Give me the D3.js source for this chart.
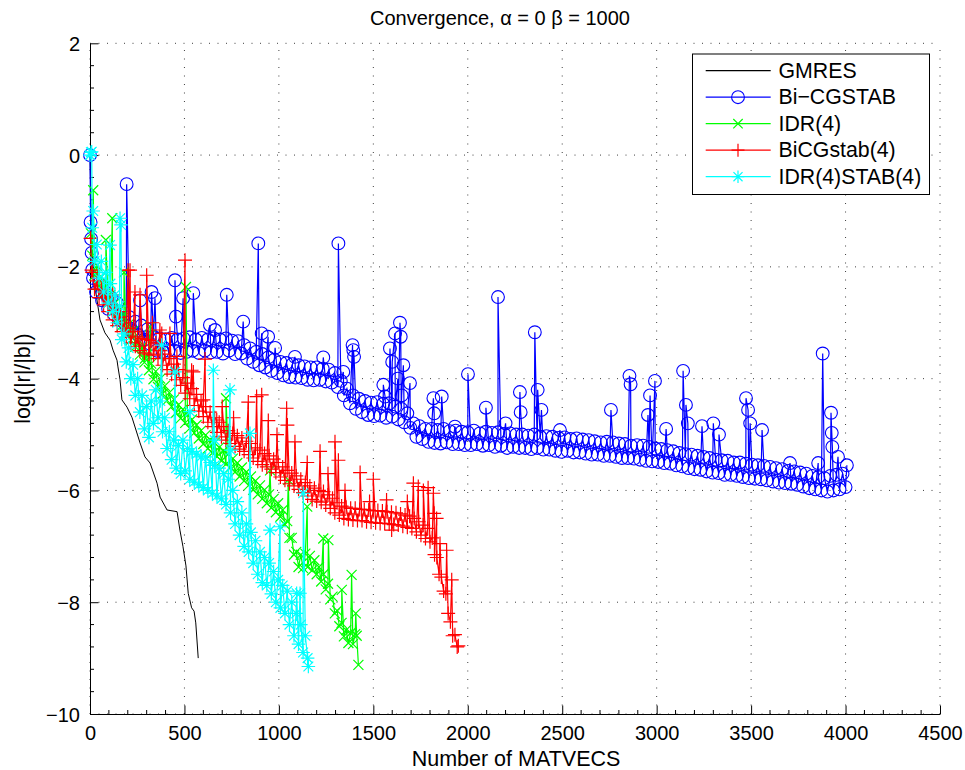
<!DOCTYPE html>
<html>
<head>
<meta charset="utf-8">
<script src="https://cdn.jsdelivr.net/npm/d3@7"></script>
<style>
  html, body { margin: 0; padding: 0; background: #fff; }
  svg { display: block; }
  text { font-family: "Liberation Sans", Arial, Helvetica, sans-serif; fill: #000; }
</style>
</head>
<body>
<svg id="chart" width="965" height="770"></svg>
<script>
// ---------------- DATA ----------------
const titleText = "Convergence, α = 0 β = 1000";
const xLabelText = "Number of MATVECS";
const yLabelText = "log(|r|/|b|)";
const xTicks = [0, 500, 1000, 1500, 2000, 2500, 3000, 3500, 4000, 4500];
const yTicks = [-10, -8, -6, -4, -2, 0, 2];
const seriesNames = ["GMRES", "Bi−CGSTAB", "IDR(4)", "BiCGstab(4)", "IDR(4)STAB(4)"];

// GMRES: [matvecs, log residual]
const gmresPts = [[0,0],[6,-1.0],[12,-1.8],[22,-2.25],[35,-2.55],[53,-2.95],[79,-3.18],[106,-3.31],
  [122,-3.49],[143,-3.67],[148,-3.79],[159,-4.02],[169,-4.38],[196,-4.51],[222,-4.69],[265,-5.15],
  [291,-5.40],[318,-5.51],[355,-5.87],[371,-6.12],[408,-6.35],[461,-6.38],[476,-6.71],[492,-7.0],
  [508,-7.35],[520,-7.84],[538,-8.10],[551,-8.16],[560,-8.37],[573,-9.0]];

// Bi-CGSTAB: read every 16 matvecs from 16 to 4000, plus start points and spikes
const bicgStart = 16, bicgStep = 16;
const bicgBase = [
  -2.2,-2.45,-2.3,-2.6,-2.45,-2.75,-2.55,-2.85,-2.65,-2.95,
  -2.8,-3.05,-2.9,-3.15,-2.98,-3.22,-3.05,-3.3,-3.12,-3.38,
  -3.25,-3.5,-3.28,-3.52,-3.3,-3.5,-3.27,-3.5,-3.3,-3.54,
  -3.28,-3.52,-3.26,-3.5,-3.3,-3.54,-3.27,-3.5,-3.3,-3.53,
  -3.28,-3.52,-3.3,-3.55,-3.28,-3.5,-3.32,-3.56,-3.33,-3.55,
  -3.4,-3.64,-3.46,-3.7,-3.52,-3.76,-3.56,-3.8,-3.62,-3.86,
  -3.66,-3.9,-3.7,-3.94,-3.72,-3.97,-3.74,-3.98,-3.76,-3.99,
  -3.78,-4.02,-3.8,-4.03,-3.8,-4.02,-3.82,-4.05,-3.84,-4.07,
  -3.9,-4.15,-4.04,-4.3,-4.18,-4.44,-4.3,-4.54,-4.36,-4.6,
  -4.4,-4.65,-4.43,-4.67,-4.42,-4.66,-4.45,-4.7,-4.44,-4.68,
  -4.5,-4.73,-4.54,-4.78,-4.62,-4.88,-4.8,-5.04,-4.85,-5.08,
  -4.9,-5.13,-4.9,-5.15,-4.92,-5.16,-4.9,-5.14,-4.94,-5.17,
  -4.93,-5.17,-4.95,-5.19,-4.96,-5.19,-4.93,-5.17,-4.98,-5.2,
  -4.95,-5.19,-4.97,-5.22,-4.96,-5.2,-4.99,-5.24,-4.98,-5.22,
  -5.0,-5.24,-5.0,-5.24,-5.02,-5.26,-5.0,-5.24,-5.04,-5.27,
  -5.03,-5.27,-5.04,-5.29,-5.06,-5.31,-5.05,-5.29,-5.08,-5.32,
  -5.07,-5.32,-5.09,-5.34,-5.1,-5.36,-5.12,-5.36,-5.14,-5.38,
  -5.13,-5.38,-5.14,-5.4,-5.16,-5.42,-5.17,-5.42,-5.2,-5.43,
  -5.19,-5.45,-5.2,-5.47,-5.22,-5.48,-5.25,-5.49,-5.26,-5.51,
  -5.28,-5.52,-5.3,-5.55,-5.33,-5.57,-5.35,-5.6,-5.36,-5.62,
  -5.38,-5.63,-5.4,-5.66,-5.42,-5.68,-5.45,-5.69,-5.46,-5.72,
  -5.47,-5.72,-5.5,-5.74,-5.5,-5.76,-5.52,-5.78,-5.54,-5.79,
  -5.55,-5.8,-5.56,-5.82,-5.58,-5.84,-5.6,-5.86,-5.62,-5.87,
  -5.65,-5.88,-5.66,-5.9,-5.68,-5.93,-5.7,-5.96,-5.74,-5.98,
  -5.76,-6.0,-5.78,-6.02,-5.74,-6.0,-5.72,-5.98,-5.7,-5.94];
const bicgExtra = [[0,0],[3,-1.2],[6,-1.5],[9,-1.75],[12,-2.05],
  [194,-0.52],[265,-2.6],[326,-2.45],[344,-2.56],[450,-2.24],[455,-2.89],[493,-2.56],[547,-2.47],
  [635,-3.04],[662,-3.13],[724,-2.5],[811,-2.98],[891,-1.58],[909,-3.19],[943,-3.25],[980,-3.45],
  [1085,-3.61],[1235,-3.62],[1315,-1.58],[1341,-3.88],[1390,-3.4],[1394,-3.49],[1398,-3.61],
  [1553,-4.11],[1562,-4.32],[1588,-3.46],[1600,-3.7],[1615,-3.19],[1630,-4.0],[1641,-3.0],[1645,-3.25],
  [1650,-4.3],[1659,-3.76],[1694,-4.08],[1818,-4.35],[1822,-4.62],[1862,-4.32],[1932,-4.86],
  [2001,-3.92],[2096,-4.52],[2160,-2.54],[2200,-4.8],[2276,-4.24],[2280,-4.6],[2355,-3.17],
  [2370,-4.2],[2390,-4.56],[2488,-4.92],[2758,-4.56],[2856,-3.95],[2862,-4.1],[2954,-4.65],
  [2965,-4.3],[2991,-4.04],[3050,-4.9],[3140,-3.86],[3155,-4.47],[3165,-4.8],[3240,-4.85],
  [3300,-4.8],[3330,-5.0],[3473,-4.35],[3484,-4.56],[3495,-4.8],[3558,-4.92],[3706,-5.51],
  [3855,-5.51],[3879,-3.55],[3923,-4.61],[3927,-4.97],[3930,-5.22],[3960,-5.4],[4007,-5.55]];

// IDR(4): read every 12 matvecs from 12 to 1404, plus spikes
const idrStart = 12, idrStep = 12;
const idrBase = [
  -1.8,-2.15,-1.98,-2.35,-2.18,-2.5,-2.34,-2.65,-2.5,-2.8,
  -2.65,-2.93,-2.77,-3.05,-2.9,-3.17,-3.03,-3.31,-3.15,-3.43,
  -3.3,-3.57,-3.43,-3.71,-3.57,-3.85,-3.73,-4.01,-3.87,-4.15,
  -4.0,-4.27,-4.13,-4.39,-4.25,-4.5,-4.37,-4.61,-4.47,-4.71,
  -4.55,-4.79,-4.65,-4.89,-4.73,-4.97,-4.83,-5.07,-4.93,-5.17,
  -5.01,-5.25,-5.09,-5.33,-5.15,-5.39,-5.23,-5.47,-5.29,-5.53,
  -5.35,-5.59,-5.43,-5.67,-5.51,-5.75,-5.59,-5.83,-5.67,-5.91,
  -5.75,-5.99,-5.83,-6.07,-5.91,-6.15,-5.99,-6.23,-6.07,-6.31,
  -6.15,-6.39,-6.23,-6.47,-6.35,-6.61,-6.55,-6.85,-6.85,-7.15,
  -7.1,-7.37,-7.15,-7.39,-7.13,-7.37,-7.17,-7.43,-7.25,-7.5,
  -7.37,-7.63,-7.5,-7.77,-7.67,-7.95,-7.9,-8.2,-8.15,-8.43,
  -8.37,-8.61,-8.5,-8.73,-8.55,-8.75,-8.57];
const idrExtra = [[5,-1.4],[17,-0.63],[84,-1.52],[118,-1.13],[180,-2.1],[291,-3.64],[318,-3.07],
  [508,-2.36],[720,-4.35],[953,-5.64],[1050,-5.81],[1150,-6.29],[1235,-6.86],[1262,-6.89],
  [1333,-7.78],[1385,-7.51],[1407,-8.2],[1412,-8.6],[1421,-9.12]];

// BiCGstab(4): read every 12 matvecs from 12 to 1944, plus spikes
const bicgLStart = 12, bicgLStep = 12;
const bicgLBase = [
  -2.1,-2.4,-2.25,-2.55,-2.4,-2.68,-2.52,-2.8,-2.65,-2.95,
  -2.78,-3.05,-2.9,-3.16,-3.0,-3.26,-3.1,-3.36,-3.16,-3.42,
  -3.25,-3.5,-3.28,-3.54,-3.3,-3.56,-3.32,-3.58,-3.36,-3.64,
  -3.5,-3.76,-3.56,-3.84,-3.64,-3.92,-3.74,-4.02,-3.84,-4.12,
  -3.98,-4.26,-4.08,-4.36,-4.18,-4.48,-4.28,-4.58,-4.4,-4.68,
  -4.5,-4.78,-4.6,-4.86,-4.7,-4.96,-4.78,-5.04,-4.86,-5.1,
  -4.93,-5.16,-4.98,-5.21,-5.02,-5.26,-5.06,-5.3,-5.12,-5.36,
  -5.16,-5.42,-5.24,-5.48,-5.28,-5.54,-5.34,-5.58,-5.38,-5.62,
  -5.44,-5.68,-5.5,-5.76,-5.58,-5.82,-5.64,-5.88,-5.69,-5.92,
  -5.74,-5.98,-5.8,-6.04,-5.86,-6.1,-5.92,-6.16,-5.96,-6.19,
  -6.0,-6.21,-6.02,-6.26,-6.08,-6.32,-6.14,-6.4,-6.22,-6.44,
  -6.28,-6.5,-6.3,-6.52,-6.32,-6.53,-6.32,-6.54,-6.34,-6.54,
  -6.34,-6.56,-6.35,-6.57,-6.36,-6.58,-6.36,-6.59,-6.37,-6.59,
  -6.38,-6.6,-6.39,-6.61,-6.4,-6.62,-6.42,-6.64,-6.44,-6.66,
  -6.46,-6.68,-6.5,-6.74,-6.56,-6.8,-6.62,-6.86,-6.68,-6.92,
  -6.85,-7.15,-7.2,-7.5,-7.55,-7.8,-7.85,-8.2,-8.35,-8.6,
  -8.58,-8.8];
const bicgLExtra = [[3,-1.49],[8,-2.06],[120,-2.5],[150,-2.8],[201,-2.06],[212,-2.06],[238,-2.45],
  [265,-2.5],[300,-2.15],[330,-3.0],[370,-3.13],[380,-3.19],[423,-3.19],[460,-3.6],[503,-1.88],
  [538,-3.85],[547,-3.88],[600,-4.38],[609,-3.65],[671,-4.74],[700,-4.5],[760,-4.7],[838,-4.42],
  [882,-4.32],[909,-4.29],[944,-4.75],[990,-5.0],[1041,-4.53],[1045,-4.83],[1085,-5.13],
  [1150,-5.5],[1218,-5.3],[1260,-5.7],[1297,-5.13],[1315,-5.46],[1350,-6.0],[1430,-5.68],
  [1480,-6.2],[1500,-5.8],[1570,-6.17],[1597,-6.71],[1680,-6.2],[1712,-5.87],[1738,-5.93],
  [1765,-6.0],[1790,-5.95],[1818,-6.05],[1822,-6.41],[1835,-6.5],[1853,-6.95],[1888,-7.07],
  [1915,-7.6],[1950,-8.78]];

// IDR(4)STAB(4): read every 12 matvecs from 12 to 1152, plus spikes
const idrsStart = 12, idrsStep = 12;
const idrsBase = [
  -1.3,-1.9,-1.6,-2.2,-1.9,-2.45,-2.1,-2.65,-2.3,-2.8,
  -2.5,-3.0,-2.7,-3.3,-3.2,-3.7,-3.45,-4.0,-3.75,-4.3,
  -4.0,-4.6,-4.3,-4.9,-4.5,-5.05,-4.4,-4.8,-4.2,-4.7,
  -4.4,-4.95,-4.7,-5.25,-4.95,-5.45,-5.1,-5.6,-5.2,-5.7,
  -5.1,-5.65,-5.25,-5.8,-5.3,-5.85,-5.35,-5.9,-5.4,-5.95,
  -5.4,-6.0,-5.5,-6.05,-5.55,-6.1,-5.6,-6.15,-5.7,-6.25,
  -5.8,-6.4,-6.0,-6.6,-6.2,-6.8,-6.4,-7.0,-6.6,-7.1,
  -6.75,-7.3,-6.9,-7.5,-7.1,-7.65,-7.2,-7.7,-7.3,-7.85,
  -7.45,-8.0,-7.6,-8.1,-7.7,-8.2,-7.8,-8.4,-8.0,-8.6,
  -8.2,-8.75,-8.4,-8.9,-8.6,-9.0];
const idrsExtra = [[0,0.0],[5,0.05],[9,0.06],[17,-1.0],[106,-1.61],[159,-1.13],[164,-1.25],
  [379,-3.4],[450,-3.88],[529,-4.59],[653,-3.85],[660,-5.1],[741,-4.2],[745,-5.28],[847,-4.98],
  [953,-6.71],[1006,-6.65],[1094,-7.84],[1112,-7.84],[1129,-6.05],[1156,-9.15]];

// ---------------- BUILD ----------------
function build(start, step, base, extra) {
  const pts = base.map((v, i) => [start + i * step, v]).concat(extra);
  pts.sort((a, b) => a[0] - b[0]);
  return pts;
}
const series = [
  { name: seriesNames[0], color: "#000000", marker: null, pts: gmresPts },
  { name: seriesNames[1], color: "#0000ff", marker: "circle", pts: build(bicgStart, bicgStep, bicgBase, bicgExtra) },
  { name: seriesNames[2], color: "#00ff00", marker: "cross", pts: build(idrStart, idrStep, idrBase, idrExtra) },
  { name: seriesNames[3], color: "#ff0000", marker: "plus", pts: build(bicgLStart, bicgLStep, bicgLBase, bicgLExtra) },
  { name: seriesNames[4], color: "#00ffff", marker: "star", pts: build(idrsStart, idrsStep, idrsBase, idrsExtra) }
];

// ---------------- DRAW ----------------
const svg = d3.select("#chart");
const L = 90, R = 940, T = 43.3, B = 714;
const x = d3.scaleLinear().domain([0, 4500]).range([L, R]);
const y = d3.scaleLinear().domain([-10, 2]).range([B, T]);
const fmt = v => (v < 0 ? "−" + Math.abs(v) : String(v));

// grid (dotted)
const grid = svg.append("g").attr("stroke", "#000").attr("stroke-width", 1)
  .attr("stroke-dasharray", "1,7.5").attr("opacity", 0.75);
xTicks.forEach(t => grid.append("line").attr("x1", x(t)).attr("x2", x(t)).attr("y1", B).attr("y2", T));
yTicks.forEach(t => grid.append("line").attr("y1", y(t)).attr("y2", y(t)).attr("x1", L).attr("x2", R));

// axes
const xAxis = d3.axisBottom(x).tickValues(xTicks).tickFormat(fmt).tickSizeInner(-8.5).tickSizeOuter(0).tickPadding(12);
const gx = svg.append("g").attr("transform", `translate(0,${B})`).call(xAxis);
const xMinor = d3.range(0, 4501, 100).filter(v => v % 500 !== 0);
gx.selectAll(".minor").data(xMinor).enter().append("line").attr("class", "minor")
  .attr("x1", d => x(d)).attr("x2", d => x(d)).attr("y1", 0).attr("y2", -4).attr("stroke", "#000");

const yAxis = d3.axisLeft(y).tickValues(yTicks).tickFormat(fmt).tickSizeInner(-8.5).tickSizeOuter(0).tickPadding(10);
const gy = svg.append("g").attr("transform", `translate(${L},0)`).call(yAxis);
const yMinor = d3.range(-10, 2.001, 0.4).filter(v => Math.abs(v / 2 - Math.round(v / 2)) > 0.01);
gy.selectAll(".minor").data(yMinor).enter().append("line").attr("class", "minor")
  .attr("y1", d => y(d)).attr("y2", d => y(d)).attr("x1", 0).attr("x2", 4).attr("stroke", "#000");

[gx, gy].forEach(g => {
  g.select(".domain").attr("stroke", "#000").attr("stroke-width", 1);
  g.selectAll(".tick line").attr("stroke", "#000");
  g.selectAll(".tick text").style("font-size", "20px").attr("fill", "#000");
});
gx.selectAll(".tick text").attr("dy", "0.71em");
gy.selectAll(".tick text").attr("dy", "0.35em");

// marker path generator
function markerPath(type, s) {
  if (type === "cross") return `M${-s},${-s}L${s},${s}M${-s},${s}L${s},${-s}`;
  if (type === "plus") return `M${-s},0H${s}M0,${-s}V${s}`;
  if (type === "star") { const c = s * 0.72; return `M${-s},0H${s}M0,${-s}V${s}M${-c},${-c}L${c},${c}M${-c},${c}L${c},${-c}`; }
  return "";
}
const markerSize = { circle: 6.4, cross: 5, plus: 7, star: 6.8 };

const plot = svg.append("g");
const line = d3.line().x(d => x(d[0])).y(d => y(d[1]));
series.forEach(s => {
  const g = plot.append("g");
  g.append("path").datum(s.pts).attr("d", line).attr("fill", "none")
    .attr("stroke", s.color).attr("stroke-width", s.marker ? 1.2 : 1);
  if (s.marker === "circle") {
    g.selectAll("circle").data(s.pts).enter().append("circle")
      .attr("cx", d => x(d[0])).attr("cy", d => y(d[1])).attr("r", markerSize.circle)
      .attr("fill", "none").attr("stroke", s.color).attr("stroke-width", 1.1);
  } else if (s.marker) {
    const p = markerPath(s.marker, markerSize[s.marker]);
    g.selectAll("path.m").data(s.pts).enter().append("path").attr("class", "m")
      .attr("transform", d => `translate(${x(d[0])},${y(d[1])})`).attr("d", p)
      .attr("fill", "none").attr("stroke", s.color).attr("stroke-width", 1.2);
  }
});

// title & labels
svg.append("text").attr("x", 500).attr("y", 18).attr("text-anchor", "middle")
  .attr("dominant-baseline", "central").style("font-size", "20px").text(titleText);
svg.append("text").attr("x", 516).attr("y", 759).attr("text-anchor", "middle")
  .attr("dominant-baseline", "central").style("font-size", "21.5px").text(xLabelText);
svg.append("text").attr("transform", `translate(23,${(T + B) / 2}) rotate(-90)`).attr("text-anchor", "middle")
  .attr("dominant-baseline", "central").style("font-size", "21.5px").text(yLabelText);

// legend
const lg = svg.append("g");
lg.append("rect").attr("x", 692.5).attr("y", 54).attr("width", 237).attr("height", 140.5)
  .attr("fill", "#fff").attr("stroke", "#000").attr("stroke-width", 1);
series.forEach((s, i) => {
  const cy = 70.7 + i * 26.5;
  lg.append("line").attr("x1", 705.7).attr("x2", 770.7).attr("y1", cy).attr("y2", cy)
    .attr("stroke", s.color).attr("stroke-width", 1.2);
  const ms = { circle: 6.4, cross: 4.7, plus: 6.5, star: 6.3 };
  if (s.marker === "circle") {
    lg.append("circle").attr("cx", 738).attr("cy", cy).attr("r", ms.circle)
      .attr("fill", "none").attr("stroke", s.color).attr("stroke-width", 1.1);
  } else if (s.marker) {
    lg.append("path").attr("transform", `translate(738,${cy})`).attr("d", markerPath(s.marker, ms[s.marker]))
      .attr("fill", "none").attr("stroke", s.color).attr("stroke-width", 1.2);
  }
  lg.append("text").attr("x", 778.5).attr("y", cy).attr("dominant-baseline", "central")
    .style("font-size", "21.3px").text(s.name);
});
</script>
</body>
</html>
